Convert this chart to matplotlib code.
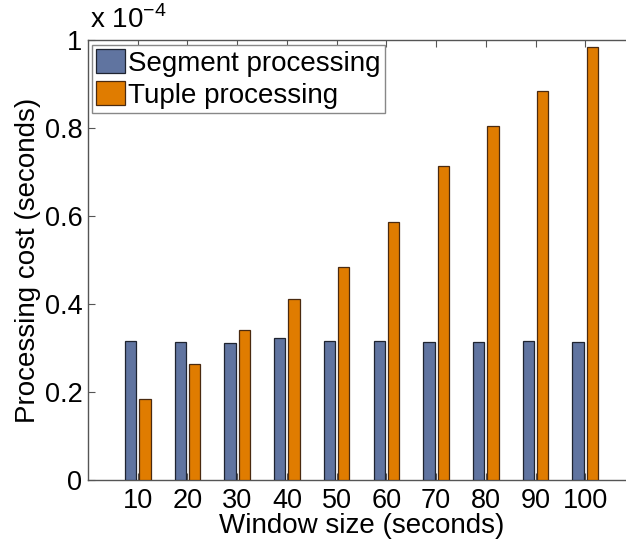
import matplotlib
matplotlib.use("Agg")
import matplotlib.pyplot as plt
from matplotlib.ticker import FuncFormatter, FixedLocator
import numpy as np

window_sizes = [10, 20, 30, 40, 50, 60, 70, 80, 90, 100]
segment_cost = [0.316e-4, 0.314e-4, 0.312e-4, 0.322e-4, 0.316e-4, 0.317e-4, 0.314e-4, 0.314e-4, 0.317e-4, 0.314e-4]
tuple_cost = [0.184e-4, 0.264e-4, 0.340e-4, 0.412e-4, 0.483e-4, 0.587e-4, 0.713e-4, 0.805e-4, 0.885e-4, 0.983e-4]
series_names = ["Segment processing", "Tuple processing"]
y_ticks = [0, 0.2e-4, 0.4e-4, 0.6e-4, 0.8e-4, 1.0e-4]

plt.rcParams['font.family'] = ['Liberation Sans', 'DejaVu Sans']
FS = 20

fig = plt.figure(figsize=(6.26, 5.40), dpi=100)
ax = fig.add_axes([88/626, 60/540, 547/626, 440/540])

pos = np.arange(1, len(window_sizes) + 1)
bw = 0.229
off = 0.143
ax.bar(pos - off, segment_cost, bw, color='#6074A0', edgecolor='#1f2430', linewidth=0.9, label=series_names[0], zorder=3)
ax.bar(pos + off, tuple_cost, bw, color='#E07C00', edgecolor='#4a2a10', linewidth=0.9, label=series_names[1], zorder=3)

ax.set_xlim(0, 11)
ax.set_ylim(0, 1e-4)
ax.set_xticks(pos)
ax.set_xticklabels([str(w) for w in window_sizes])
ax.yaxis.set_major_locator(FixedLocator(y_ticks))
ax.yaxis.set_major_formatter(FuncFormatter(lambda v, p: ('%g' % round(v / 1e-4, 4))))

for s in ax.spines.values():
    s.set_color('#555555')
    s.set_linewidth(1.0)

ax.tick_params(axis='both', which='both', direction='in', length=5, width=0.8,
               color='#555555', labelsize=19.5, top=True, right=True)
ax.tick_params(axis='x', pad=6)
ax.tick_params(axis='y', pad=4)

ax.set_xlabel('Window size (seconds)', fontsize=FS, labelpad=-1)
ax.set_ylabel('Processing cost (seconds)', fontsize=FS, labelpad=3)

fig.text(90/626, 1 - 20/540, r'x 10$^{\mathregular{-4}}$', fontsize=FS, ha='left', va='center')

leg = ax.legend(loc='upper left', bbox_to_anchor=(0.007, 0.988), fontsize=FS, frameon=True,
                fancybox=False, edgecolor='#888888', framealpha=1, borderpad=0.15,
                handlelength=1.05, handleheight=0.95, handletextpad=0.1, labelspacing=0.15,
                borderaxespad=0.0)
leg.get_frame().set_linewidth(1.0)

fig.savefig('out.png', dpi=100)
